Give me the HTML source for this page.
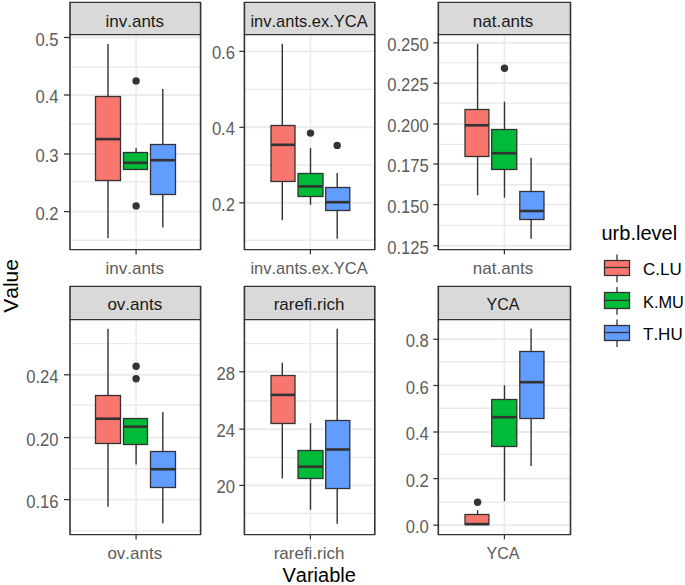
<!DOCTYPE html>
<html><head><meta charset="utf-8"><title>boxplot</title>
<style>html,body{margin:0;padding:0;background:#fff;}svg{display:block;}text{font-family:"Liberation Sans", sans-serif;font-kerning:none;font-variant-ligatures:none;font-feature-settings:"liga" 0;}</style>
</head><body>
<svg width="685" height="585" viewBox="0 0 685 585">
<rect x="0" y="0" width="685" height="585" fill="#fff"/>
<line x1="70" y1="240.2" x2="200.6" y2="240.2" stroke="#EBEBEB" stroke-width="1.4"/>
<line x1="70" y1="181.8" x2="200.6" y2="181.8" stroke="#EBEBEB" stroke-width="1.4"/>
<line x1="70" y1="124.2" x2="200.6" y2="124.2" stroke="#EBEBEB" stroke-width="1.4"/>
<line x1="70" y1="67" x2="200.6" y2="67" stroke="#EBEBEB" stroke-width="1.4"/>
<line x1="70" y1="211.6" x2="200.6" y2="211.6" stroke="#EBEBEB" stroke-width="1.94"/>
<line x1="70" y1="154" x2="200.6" y2="154" stroke="#EBEBEB" stroke-width="1.94"/>
<line x1="70" y1="95" x2="200.6" y2="95" stroke="#EBEBEB" stroke-width="1.94"/>
<line x1="70" y1="37.5" x2="200.6" y2="37.5" stroke="#EBEBEB" stroke-width="1.94"/>
<line x1="136.1" y1="34.5" x2="136.1" y2="249.6" stroke="#EBEBEB" stroke-width="1.6"/>
<line x1="108" y1="44" x2="108" y2="96.5" stroke="#333333" stroke-width="1.4"/>
<line x1="108" y1="180.5" x2="108" y2="238.3" stroke="#333333" stroke-width="1.4"/>
<rect x="95.5" y="96.5" width="25" height="84" fill="#F8766D" stroke="#333333" stroke-width="1.3"/>
<line x1="95.5" y1="139.1" x2="120.5" y2="139.1" stroke="#333333" stroke-width="2.6"/>
<line x1="136.1" y1="148" x2="136.1" y2="152.5" stroke="#333333" stroke-width="1.4"/>
<line x1="136.1" y1="169.5" x2="136.1" y2="169.2" stroke="#333333" stroke-width="1.4"/>
<rect x="123.5" y="152.5" width="24" height="17" fill="#00BA38" stroke="#333333" stroke-width="1.3"/>
<line x1="123.5" y1="162.8" x2="147.5" y2="162.8" stroke="#333333" stroke-width="2.6"/>
<circle cx="136.1" cy="80.9" r="3.7" fill="#333333"/>
<circle cx="136.1" cy="205.9" r="3.7" fill="#333333"/>
<line x1="162.8" y1="88.9" x2="162.8" y2="144.5" stroke="#333333" stroke-width="1.4"/>
<line x1="162.8" y1="194.5" x2="162.8" y2="227.4" stroke="#333333" stroke-width="1.4"/>
<rect x="150.5" y="144.5" width="25" height="50" fill="#619CFF" stroke="#333333" stroke-width="1.3"/>
<line x1="150.5" y1="160.2" x2="175.5" y2="160.2" stroke="#333333" stroke-width="2.6"/>
<rect x="70" y="2.4" width="130.6" height="32.1" fill="#D9D9D9"/>
<line x1="70" y1="2.4" x2="200.6" y2="2.4" stroke="#333333" stroke-width="1.25" stroke-linecap="square"/>
<line x1="70" y1="34.5" x2="200.6" y2="34.5" stroke="#333333" stroke-width="1.25" stroke-linecap="square"/>
<line x1="70" y1="249.6" x2="200.6" y2="249.6" stroke="#333333" stroke-width="1.25" stroke-linecap="square"/>
<line x1="70" y1="2.4" x2="70" y2="249.6" stroke="#333333" stroke-width="1.6"/>
<line x1="200.6" y1="2.4" x2="200.6" y2="249.6" stroke="#333333" stroke-width="1.6"/>
<line x1="64" y1="211.6" x2="70" y2="211.6" stroke="#333333" stroke-width="1.25"/>
<line x1="64" y1="154" x2="70" y2="154" stroke="#333333" stroke-width="1.25"/>
<line x1="64" y1="95" x2="70" y2="95" stroke="#333333" stroke-width="1.25"/>
<line x1="64" y1="37.5" x2="70" y2="37.5" stroke="#333333" stroke-width="1.25"/>
<line x1="136.1" y1="249.6" x2="136.1" y2="254.4" stroke="#333333" stroke-width="1.25"/>
<text x="58.6" y="219.6" font-size="17.5" fill="#5C5C5C" text-anchor="end" textLength="23.11" lengthAdjust="spacingAndGlyphs">0.2</text>
<text x="58.6" y="162" font-size="17.5" fill="#5C5C5C" text-anchor="end" textLength="23.11" lengthAdjust="spacingAndGlyphs">0.3</text>
<text x="58.6" y="103" font-size="17.5" fill="#5C5C5C" text-anchor="end" textLength="23.11" lengthAdjust="spacingAndGlyphs">0.4</text>
<text x="58.6" y="45.5" font-size="17.5" fill="#5C5C5C" text-anchor="end" textLength="23.11" lengthAdjust="spacingAndGlyphs">0.5</text>
<text x="134.8" y="274" font-size="17" fill="#5C5C5C" text-anchor="middle">inv.ants</text>
<text x="134.8" y="27" font-size="17" fill="#1A1A1A" text-anchor="middle">inv.ants</text>
<line x1="244.4" y1="240.2" x2="374.8" y2="240.2" stroke="#EBEBEB" stroke-width="1.4"/>
<line x1="244.4" y1="165.3" x2="374.8" y2="165.3" stroke="#EBEBEB" stroke-width="1.4"/>
<line x1="244.4" y1="89.4" x2="374.8" y2="89.4" stroke="#EBEBEB" stroke-width="1.4"/>
<line x1="244.4" y1="202.8" x2="374.8" y2="202.8" stroke="#EBEBEB" stroke-width="1.94"/>
<line x1="244.4" y1="127.3" x2="374.8" y2="127.3" stroke="#EBEBEB" stroke-width="1.94"/>
<line x1="244.4" y1="51.4" x2="374.8" y2="51.4" stroke="#EBEBEB" stroke-width="1.94"/>
<line x1="310.4" y1="34.5" x2="310.4" y2="249.6" stroke="#EBEBEB" stroke-width="1.6"/>
<line x1="282.3" y1="43.85" x2="282.3" y2="125.5" stroke="#333333" stroke-width="1.4"/>
<line x1="282.3" y1="181.5" x2="282.3" y2="220.3" stroke="#333333" stroke-width="1.4"/>
<rect x="271" y="125.5" width="24" height="56" fill="#F8766D" stroke="#333333" stroke-width="1.3"/>
<line x1="271" y1="144.8" x2="295" y2="144.8" stroke="#333333" stroke-width="2.6"/>
<line x1="310.5" y1="148" x2="310.5" y2="173.5" stroke="#333333" stroke-width="1.4"/>
<line x1="310.5" y1="196.5" x2="310.5" y2="204.9" stroke="#333333" stroke-width="1.4"/>
<rect x="298" y="173.5" width="25" height="23" fill="#00BA38" stroke="#333333" stroke-width="1.3"/>
<line x1="298" y1="186.4" x2="323" y2="186.4" stroke="#333333" stroke-width="2.6"/>
<circle cx="310.5" cy="133.1" r="3.7" fill="#333333"/>
<line x1="337.2" y1="173.1" x2="337.2" y2="187.5" stroke="#333333" stroke-width="1.4"/>
<line x1="337.2" y1="210.5" x2="337.2" y2="238.7" stroke="#333333" stroke-width="1.4"/>
<rect x="325.7" y="187.5" width="24.1" height="23" fill="#619CFF" stroke="#333333" stroke-width="1.3"/>
<line x1="325.7" y1="202.2" x2="349.8" y2="202.2" stroke="#333333" stroke-width="2.6"/>
<circle cx="337.2" cy="145.4" r="3.7" fill="#333333"/>
<rect x="244.4" y="2.4" width="130.4" height="32.1" fill="#D9D9D9"/>
<line x1="244.4" y1="2.4" x2="374.8" y2="2.4" stroke="#333333" stroke-width="1.25" stroke-linecap="square"/>
<line x1="244.4" y1="34.5" x2="374.8" y2="34.5" stroke="#333333" stroke-width="1.25" stroke-linecap="square"/>
<line x1="244.4" y1="249.6" x2="374.8" y2="249.6" stroke="#333333" stroke-width="1.25" stroke-linecap="square"/>
<line x1="244.4" y1="2.4" x2="244.4" y2="249.6" stroke="#333333" stroke-width="1.6"/>
<line x1="374.8" y1="2.4" x2="374.8" y2="249.6" stroke="#333333" stroke-width="1.6"/>
<line x1="239.3" y1="202.8" x2="244.4" y2="202.8" stroke="#333333" stroke-width="1.25"/>
<line x1="239.3" y1="127.3" x2="244.4" y2="127.3" stroke="#333333" stroke-width="1.25"/>
<line x1="239.3" y1="51.4" x2="244.4" y2="51.4" stroke="#333333" stroke-width="1.25"/>
<line x1="310.4" y1="249.6" x2="310.4" y2="254.4" stroke="#333333" stroke-width="1.25"/>
<text x="235" y="210.8" font-size="17.5" fill="#5C5C5C" text-anchor="end" textLength="23.11" lengthAdjust="spacingAndGlyphs">0.2</text>
<text x="235" y="135.3" font-size="17.5" fill="#5C5C5C" text-anchor="end" textLength="23.11" lengthAdjust="spacingAndGlyphs">0.4</text>
<text x="235" y="59.4" font-size="17.5" fill="#5C5C5C" text-anchor="end" textLength="23.11" lengthAdjust="spacingAndGlyphs">0.6</text>
<text x="309.1" y="274" font-size="17" fill="#5C5C5C" text-anchor="middle" textLength="117.31" lengthAdjust="spacingAndGlyphs">inv.ants.ex.YCA</text>
<text x="309.1" y="27" font-size="17" fill="#1A1A1A" text-anchor="middle" textLength="117.31" lengthAdjust="spacingAndGlyphs">inv.ants.ex.YCA</text>
<line x1="438.3" y1="225.4" x2="570.5" y2="225.4" stroke="#EBEBEB" stroke-width="1.4"/>
<line x1="438.3" y1="184.8" x2="570.5" y2="184.8" stroke="#EBEBEB" stroke-width="1.4"/>
<line x1="438.3" y1="144.4" x2="570.5" y2="144.4" stroke="#EBEBEB" stroke-width="1.4"/>
<line x1="438.3" y1="103.3" x2="570.5" y2="103.3" stroke="#EBEBEB" stroke-width="1.4"/>
<line x1="438.3" y1="62.7" x2="570.5" y2="62.7" stroke="#EBEBEB" stroke-width="1.4"/>
<line x1="438.3" y1="245.7" x2="570.5" y2="245.7" stroke="#EBEBEB" stroke-width="1.94"/>
<line x1="438.3" y1="204.6" x2="570.5" y2="204.6" stroke="#EBEBEB" stroke-width="1.94"/>
<line x1="438.3" y1="164" x2="570.5" y2="164" stroke="#EBEBEB" stroke-width="1.94"/>
<line x1="438.3" y1="124" x2="570.5" y2="124" stroke="#EBEBEB" stroke-width="1.94"/>
<line x1="438.3" y1="83.2" x2="570.5" y2="83.2" stroke="#EBEBEB" stroke-width="1.94"/>
<line x1="438.3" y1="42.8" x2="570.5" y2="42.8" stroke="#EBEBEB" stroke-width="1.94"/>
<line x1="504.4" y1="34.5" x2="504.4" y2="249.6" stroke="#EBEBEB" stroke-width="1.6"/>
<line x1="477.6" y1="43.85" x2="477.6" y2="109.5" stroke="#333333" stroke-width="1.4"/>
<line x1="477.6" y1="156.5" x2="477.6" y2="195.2" stroke="#333333" stroke-width="1.4"/>
<rect x="465" y="109.5" width="23.9" height="47" fill="#F8766D" stroke="#333333" stroke-width="1.3"/>
<line x1="465" y1="125.3" x2="488.9" y2="125.3" stroke="#333333" stroke-width="2.6"/>
<line x1="504.5" y1="101.7" x2="504.5" y2="129.5" stroke="#333333" stroke-width="1.4"/>
<line x1="504.5" y1="169.5" x2="504.5" y2="197.7" stroke="#333333" stroke-width="1.4"/>
<rect x="491.7" y="129.5" width="25.1" height="40" fill="#00BA38" stroke="#333333" stroke-width="1.3"/>
<line x1="491.7" y1="153.2" x2="516.8" y2="153.2" stroke="#333333" stroke-width="2.6"/>
<circle cx="504.5" cy="68.3" r="3.7" fill="#333333"/>
<line x1="531.1" y1="157.7" x2="531.1" y2="191.5" stroke="#333333" stroke-width="1.4"/>
<line x1="531.1" y1="219.5" x2="531.1" y2="238.7" stroke="#333333" stroke-width="1.4"/>
<rect x="519.8" y="191.5" width="24.2" height="28" fill="#619CFF" stroke="#333333" stroke-width="1.3"/>
<line x1="519.8" y1="211" x2="544" y2="211" stroke="#333333" stroke-width="2.6"/>
<rect x="438.3" y="2.4" width="132.2" height="32.1" fill="#D9D9D9"/>
<line x1="438.3" y1="2.4" x2="570.5" y2="2.4" stroke="#333333" stroke-width="1.25" stroke-linecap="square"/>
<line x1="438.3" y1="34.5" x2="570.5" y2="34.5" stroke="#333333" stroke-width="1.25" stroke-linecap="square"/>
<line x1="438.3" y1="249.6" x2="570.5" y2="249.6" stroke="#333333" stroke-width="1.25" stroke-linecap="square"/>
<line x1="438.3" y1="2.4" x2="438.3" y2="249.6" stroke="#333333" stroke-width="1.6"/>
<line x1="570.5" y1="2.4" x2="570.5" y2="249.6" stroke="#333333" stroke-width="1.6"/>
<line x1="433.3" y1="245.7" x2="438.3" y2="245.7" stroke="#333333" stroke-width="1.25"/>
<line x1="433.3" y1="204.6" x2="438.3" y2="204.6" stroke="#333333" stroke-width="1.25"/>
<line x1="433.3" y1="164" x2="438.3" y2="164" stroke="#333333" stroke-width="1.25"/>
<line x1="433.3" y1="124" x2="438.3" y2="124" stroke="#333333" stroke-width="1.25"/>
<line x1="433.3" y1="83.2" x2="438.3" y2="83.2" stroke="#333333" stroke-width="1.25"/>
<line x1="433.3" y1="42.8" x2="438.3" y2="42.8" stroke="#333333" stroke-width="1.25"/>
<line x1="504.4" y1="249.6" x2="504.4" y2="254.4" stroke="#333333" stroke-width="1.25"/>
<text x="428.8" y="253.7" font-size="17.5" fill="#5C5C5C" text-anchor="end" textLength="41.60" lengthAdjust="spacingAndGlyphs">0.125</text>
<text x="428.8" y="212.6" font-size="17.5" fill="#5C5C5C" text-anchor="end" textLength="41.60" lengthAdjust="spacingAndGlyphs">0.150</text>
<text x="428.8" y="172" font-size="17.5" fill="#5C5C5C" text-anchor="end" textLength="41.60" lengthAdjust="spacingAndGlyphs">0.175</text>
<text x="428.8" y="132" font-size="17.5" fill="#5C5C5C" text-anchor="end" textLength="41.60" lengthAdjust="spacingAndGlyphs">0.200</text>
<text x="428.8" y="91.2" font-size="17.5" fill="#5C5C5C" text-anchor="end" textLength="41.60" lengthAdjust="spacingAndGlyphs">0.225</text>
<text x="428.8" y="50.8" font-size="17.5" fill="#5C5C5C" text-anchor="end" textLength="41.60" lengthAdjust="spacingAndGlyphs">0.250</text>
<text x="503.05" y="274" font-size="17" fill="#5C5C5C" text-anchor="middle">nat.ants</text>
<text x="503.05" y="27" font-size="17" fill="#1A1A1A" text-anchor="middle">nat.ants</text>
<line x1="70" y1="530.9" x2="200.6" y2="530.9" stroke="#EBEBEB" stroke-width="1.4"/>
<line x1="70" y1="468.7" x2="200.6" y2="468.7" stroke="#EBEBEB" stroke-width="1.4"/>
<line x1="70" y1="405.2" x2="200.6" y2="405.2" stroke="#EBEBEB" stroke-width="1.4"/>
<line x1="70" y1="343.6" x2="200.6" y2="343.6" stroke="#EBEBEB" stroke-width="1.4"/>
<line x1="70" y1="499.6" x2="200.6" y2="499.6" stroke="#EBEBEB" stroke-width="1.94"/>
<line x1="70" y1="437.6" x2="200.6" y2="437.6" stroke="#EBEBEB" stroke-width="1.94"/>
<line x1="70" y1="374.8" x2="200.6" y2="374.8" stroke="#EBEBEB" stroke-width="1.94"/>
<line x1="136.1" y1="319.5" x2="136.1" y2="534.6" stroke="#EBEBEB" stroke-width="1.6"/>
<line x1="108" y1="328.85" x2="108" y2="395.5" stroke="#333333" stroke-width="1.4"/>
<line x1="108" y1="443.5" x2="108" y2="506.7" stroke="#333333" stroke-width="1.4"/>
<rect x="95.5" y="395.5" width="25" height="48" fill="#F8766D" stroke="#333333" stroke-width="1.3"/>
<line x1="95.5" y1="418.7" x2="120.5" y2="418.7" stroke="#333333" stroke-width="2.6"/>
<line x1="136.1" y1="418.1" x2="136.1" y2="418.5" stroke="#333333" stroke-width="1.4"/>
<line x1="136.1" y1="444.5" x2="136.1" y2="464.6" stroke="#333333" stroke-width="1.4"/>
<rect x="123.5" y="418.5" width="24" height="26" fill="#00BA38" stroke="#333333" stroke-width="1.3"/>
<line x1="123.5" y1="426.7" x2="147.5" y2="426.7" stroke="#333333" stroke-width="2.6"/>
<circle cx="136.1" cy="366.2" r="3.7" fill="#333333"/>
<circle cx="136.1" cy="378.7" r="3.7" fill="#333333"/>
<line x1="162.8" y1="411.9" x2="162.8" y2="451.5" stroke="#333333" stroke-width="1.4"/>
<line x1="162.8" y1="487.5" x2="162.8" y2="523.3" stroke="#333333" stroke-width="1.4"/>
<rect x="150.5" y="451.5" width="25" height="36" fill="#619CFF" stroke="#333333" stroke-width="1.3"/>
<line x1="150.5" y1="469.2" x2="175.5" y2="469.2" stroke="#333333" stroke-width="2.6"/>
<rect x="70" y="286.3" width="130.6" height="33.2" fill="#D9D9D9"/>
<line x1="70" y1="286.3" x2="200.6" y2="286.3" stroke="#333333" stroke-width="1.25" stroke-linecap="square"/>
<line x1="70" y1="319.5" x2="200.6" y2="319.5" stroke="#333333" stroke-width="1.25" stroke-linecap="square"/>
<line x1="70" y1="534.6" x2="200.6" y2="534.6" stroke="#333333" stroke-width="1.25" stroke-linecap="square"/>
<line x1="70" y1="286.3" x2="70" y2="534.6" stroke="#333333" stroke-width="1.6"/>
<line x1="200.6" y1="286.3" x2="200.6" y2="534.6" stroke="#333333" stroke-width="1.6"/>
<line x1="64" y1="499.6" x2="70" y2="499.6" stroke="#333333" stroke-width="1.25"/>
<line x1="64" y1="437.6" x2="70" y2="437.6" stroke="#333333" stroke-width="1.25"/>
<line x1="64" y1="374.8" x2="70" y2="374.8" stroke="#333333" stroke-width="1.25"/>
<line x1="136.1" y1="534.6" x2="136.1" y2="539.4" stroke="#333333" stroke-width="1.25"/>
<text x="58.6" y="507.6" font-size="17.5" fill="#5C5C5C" text-anchor="end" textLength="32.36" lengthAdjust="spacingAndGlyphs">0.16</text>
<text x="58.6" y="445.6" font-size="17.5" fill="#5C5C5C" text-anchor="end" textLength="32.36" lengthAdjust="spacingAndGlyphs">0.20</text>
<text x="58.6" y="382.8" font-size="17.5" fill="#5C5C5C" text-anchor="end" textLength="32.36" lengthAdjust="spacingAndGlyphs">0.24</text>
<text x="134.8" y="559.2" font-size="17" fill="#5C5C5C" text-anchor="middle">ov.ants</text>
<text x="134.8" y="310.3" font-size="17" fill="#1A1A1A" text-anchor="middle">ov.ants</text>
<line x1="244.4" y1="513.5" x2="374.8" y2="513.5" stroke="#EBEBEB" stroke-width="1.4"/>
<line x1="244.4" y1="457.5" x2="374.8" y2="457.5" stroke="#EBEBEB" stroke-width="1.4"/>
<line x1="244.4" y1="401" x2="374.8" y2="401" stroke="#EBEBEB" stroke-width="1.4"/>
<line x1="244.4" y1="343.6" x2="374.8" y2="343.6" stroke="#EBEBEB" stroke-width="1.4"/>
<line x1="244.4" y1="485.4" x2="374.8" y2="485.4" stroke="#EBEBEB" stroke-width="1.94"/>
<line x1="244.4" y1="429.2" x2="374.8" y2="429.2" stroke="#EBEBEB" stroke-width="1.94"/>
<line x1="244.4" y1="371.8" x2="374.8" y2="371.8" stroke="#EBEBEB" stroke-width="1.94"/>
<line x1="310.4" y1="319.5" x2="310.4" y2="534.6" stroke="#EBEBEB" stroke-width="1.6"/>
<line x1="282.3" y1="362.7" x2="282.3" y2="375.5" stroke="#333333" stroke-width="1.4"/>
<line x1="282.3" y1="423.5" x2="282.3" y2="478.6" stroke="#333333" stroke-width="1.4"/>
<rect x="271" y="375.5" width="24" height="48" fill="#F8766D" stroke="#333333" stroke-width="1.3"/>
<line x1="271" y1="394.9" x2="295" y2="394.9" stroke="#333333" stroke-width="2.6"/>
<line x1="310.5" y1="423.2" x2="310.5" y2="450.5" stroke="#333333" stroke-width="1.4"/>
<line x1="310.5" y1="478.5" x2="310.5" y2="509.8" stroke="#333333" stroke-width="1.4"/>
<rect x="298" y="450.5" width="25" height="28" fill="#00BA38" stroke="#333333" stroke-width="1.3"/>
<line x1="298" y1="466.7" x2="323" y2="466.7" stroke="#333333" stroke-width="2.6"/>
<line x1="337.2" y1="328.8" x2="337.2" y2="420.5" stroke="#333333" stroke-width="1.4"/>
<line x1="337.2" y1="488.5" x2="337.2" y2="523.7" stroke="#333333" stroke-width="1.4"/>
<rect x="325.7" y="420.5" width="24.1" height="68" fill="#619CFF" stroke="#333333" stroke-width="1.3"/>
<line x1="325.7" y1="449.5" x2="349.8" y2="449.5" stroke="#333333" stroke-width="2.6"/>
<rect x="244.4" y="286.3" width="130.4" height="33.2" fill="#D9D9D9"/>
<line x1="244.4" y1="286.3" x2="374.8" y2="286.3" stroke="#333333" stroke-width="1.25" stroke-linecap="square"/>
<line x1="244.4" y1="319.5" x2="374.8" y2="319.5" stroke="#333333" stroke-width="1.25" stroke-linecap="square"/>
<line x1="244.4" y1="534.6" x2="374.8" y2="534.6" stroke="#333333" stroke-width="1.25" stroke-linecap="square"/>
<line x1="244.4" y1="286.3" x2="244.4" y2="534.6" stroke="#333333" stroke-width="1.6"/>
<line x1="374.8" y1="286.3" x2="374.8" y2="534.6" stroke="#333333" stroke-width="1.6"/>
<line x1="239.3" y1="485.4" x2="244.4" y2="485.4" stroke="#333333" stroke-width="1.25"/>
<line x1="239.3" y1="429.2" x2="244.4" y2="429.2" stroke="#333333" stroke-width="1.25"/>
<line x1="239.3" y1="371.8" x2="244.4" y2="371.8" stroke="#333333" stroke-width="1.25"/>
<line x1="310.4" y1="534.6" x2="310.4" y2="539.4" stroke="#333333" stroke-width="1.25"/>
<text x="235" y="493.4" font-size="17.5" fill="#5C5C5C" text-anchor="end" textLength="18.49" lengthAdjust="spacingAndGlyphs">20</text>
<text x="235" y="437.2" font-size="17.5" fill="#5C5C5C" text-anchor="end" textLength="18.49" lengthAdjust="spacingAndGlyphs">24</text>
<text x="235" y="379.8" font-size="17.5" fill="#5C5C5C" text-anchor="end" textLength="18.49" lengthAdjust="spacingAndGlyphs">28</text>
<text x="309.1" y="559.2" font-size="17" fill="#5C5C5C" text-anchor="middle">rarefi.rich</text>
<text x="309.1" y="310.3" font-size="17" fill="#1A1A1A" text-anchor="middle">rarefi.rich</text>
<line x1="438.3" y1="502.2" x2="570.5" y2="502.2" stroke="#EBEBEB" stroke-width="1.4"/>
<line x1="438.3" y1="454.4" x2="570.5" y2="454.4" stroke="#EBEBEB" stroke-width="1.4"/>
<line x1="438.3" y1="408.2" x2="570.5" y2="408.2" stroke="#EBEBEB" stroke-width="1.4"/>
<line x1="438.3" y1="361.7" x2="570.5" y2="361.7" stroke="#EBEBEB" stroke-width="1.4"/>
<line x1="438.3" y1="525.2" x2="570.5" y2="525.2" stroke="#EBEBEB" stroke-width="1.94"/>
<line x1="438.3" y1="478.6" x2="570.5" y2="478.6" stroke="#EBEBEB" stroke-width="1.94"/>
<line x1="438.3" y1="432" x2="570.5" y2="432" stroke="#EBEBEB" stroke-width="1.94"/>
<line x1="438.3" y1="385.5" x2="570.5" y2="385.5" stroke="#EBEBEB" stroke-width="1.94"/>
<line x1="438.3" y1="339.3" x2="570.5" y2="339.3" stroke="#EBEBEB" stroke-width="1.94"/>
<line x1="504.4" y1="319.5" x2="504.4" y2="534.6" stroke="#EBEBEB" stroke-width="1.6"/>
<line x1="477.6" y1="510.2" x2="477.6" y2="514.5" stroke="#333333" stroke-width="1.4"/>
<line x1="477.6" y1="524.5" x2="477.6" y2="524.1" stroke="#333333" stroke-width="1.4"/>
<rect x="465" y="514.5" width="23.9" height="10" fill="#F8766D" stroke="#333333" stroke-width="1.3"/>
<line x1="465" y1="524.1" x2="488.9" y2="524.1" stroke="#333333" stroke-width="2.6"/>
<circle cx="477.6" cy="502.2" r="3.7" fill="#333333"/>
<line x1="504.5" y1="385.3" x2="504.5" y2="399.5" stroke="#333333" stroke-width="1.4"/>
<line x1="504.5" y1="446.5" x2="504.5" y2="501.2" stroke="#333333" stroke-width="1.4"/>
<rect x="491.7" y="399.5" width="25.1" height="47" fill="#00BA38" stroke="#333333" stroke-width="1.3"/>
<line x1="491.7" y1="417.2" x2="516.8" y2="417.2" stroke="#333333" stroke-width="2.6"/>
<line x1="531.1" y1="328.8" x2="531.1" y2="351.5" stroke="#333333" stroke-width="1.4"/>
<line x1="531.1" y1="418.5" x2="531.1" y2="465.9" stroke="#333333" stroke-width="1.4"/>
<rect x="519.8" y="351.5" width="24.2" height="67" fill="#619CFF" stroke="#333333" stroke-width="1.3"/>
<line x1="519.8" y1="382.2" x2="544" y2="382.2" stroke="#333333" stroke-width="2.6"/>
<rect x="438.3" y="286.3" width="132.2" height="33.2" fill="#D9D9D9"/>
<line x1="438.3" y1="286.3" x2="570.5" y2="286.3" stroke="#333333" stroke-width="1.25" stroke-linecap="square"/>
<line x1="438.3" y1="319.5" x2="570.5" y2="319.5" stroke="#333333" stroke-width="1.25" stroke-linecap="square"/>
<line x1="438.3" y1="534.6" x2="570.5" y2="534.6" stroke="#333333" stroke-width="1.25" stroke-linecap="square"/>
<line x1="438.3" y1="286.3" x2="438.3" y2="534.6" stroke="#333333" stroke-width="1.6"/>
<line x1="570.5" y1="286.3" x2="570.5" y2="534.6" stroke="#333333" stroke-width="1.6"/>
<line x1="433.3" y1="525.2" x2="438.3" y2="525.2" stroke="#333333" stroke-width="1.25"/>
<line x1="433.3" y1="478.6" x2="438.3" y2="478.6" stroke="#333333" stroke-width="1.25"/>
<line x1="433.3" y1="432" x2="438.3" y2="432" stroke="#333333" stroke-width="1.25"/>
<line x1="433.3" y1="385.5" x2="438.3" y2="385.5" stroke="#333333" stroke-width="1.25"/>
<line x1="433.3" y1="339.3" x2="438.3" y2="339.3" stroke="#333333" stroke-width="1.25"/>
<line x1="504.4" y1="534.6" x2="504.4" y2="539.4" stroke="#333333" stroke-width="1.25"/>
<text x="428.8" y="533.2" font-size="17.5" fill="#5C5C5C" text-anchor="end" textLength="23.11" lengthAdjust="spacingAndGlyphs">0.0</text>
<text x="428.8" y="486.6" font-size="17.5" fill="#5C5C5C" text-anchor="end" textLength="23.11" lengthAdjust="spacingAndGlyphs">0.2</text>
<text x="428.8" y="440" font-size="17.5" fill="#5C5C5C" text-anchor="end" textLength="23.11" lengthAdjust="spacingAndGlyphs">0.4</text>
<text x="428.8" y="393.5" font-size="17.5" fill="#5C5C5C" text-anchor="end" textLength="23.11" lengthAdjust="spacingAndGlyphs">0.6</text>
<text x="428.8" y="347.3" font-size="17.5" fill="#5C5C5C" text-anchor="end" textLength="23.11" lengthAdjust="spacingAndGlyphs">0.8</text>
<text x="503.05" y="559.2" font-size="17" fill="#5C5C5C" text-anchor="middle" textLength="33.07" lengthAdjust="spacingAndGlyphs">YCA</text>
<text x="503.05" y="310.3" font-size="17" fill="#1A1A1A" text-anchor="middle" textLength="33.07" lengthAdjust="spacingAndGlyphs">YCA</text>
<text x="319.2" y="581.6" font-size="20.0" fill="#000" text-anchor="middle">Variable</text>
<text transform="translate(17.8,285.9) rotate(-90)" font-size="20.0" fill="#000" text-anchor="middle" textLength="53.66" lengthAdjust="spacingAndGlyphs">Value</text>
<text x="601.5" y="240.1" font-size="20.0" fill="#000">urb.level</text>
<line x1="617" y1="254.4" x2="617" y2="260.5" stroke="#333333" stroke-width="1.3"/>
<line x1="617" y1="275.5" x2="617" y2="282.2" stroke="#333333" stroke-width="1.3"/>
<rect x="604.5" y="260.5" width="25" height="15" fill="#F8766D" stroke="#333333" stroke-width="1.3"/>
<line x1="604.5" y1="267.5" x2="629.5" y2="267.5" stroke="#333333" stroke-width="1.3"/>
<text x="643.0" y="275.1" font-size="17" fill="#000">C.LU</text>
<line x1="617" y1="286.9" x2="617" y2="292.5" stroke="#333333" stroke-width="1.3"/>
<line x1="617" y1="308.5" x2="617" y2="314.7" stroke="#333333" stroke-width="1.3"/>
<rect x="604.5" y="292.5" width="25" height="16" fill="#00BA38" stroke="#333333" stroke-width="1.3"/>
<line x1="604.5" y1="300.4" x2="629.5" y2="300.4" stroke="#333333" stroke-width="1.3"/>
<text x="643.0" y="308.1" font-size="17" fill="#000" textLength="40.80" lengthAdjust="spacingAndGlyphs">K.MU</text>
<line x1="617" y1="319.4" x2="617" y2="325.5" stroke="#333333" stroke-width="1.3"/>
<line x1="617" y1="340.5" x2="617" y2="347" stroke="#333333" stroke-width="1.3"/>
<rect x="604.5" y="325.5" width="25" height="15" fill="#619CFF" stroke="#333333" stroke-width="1.3"/>
<line x1="604.5" y1="332.5" x2="629.5" y2="332.5" stroke="#333333" stroke-width="1.3"/>
<text x="643.0" y="340.1" font-size="17" fill="#000">T.HU</text>
</svg>
</body></html>
